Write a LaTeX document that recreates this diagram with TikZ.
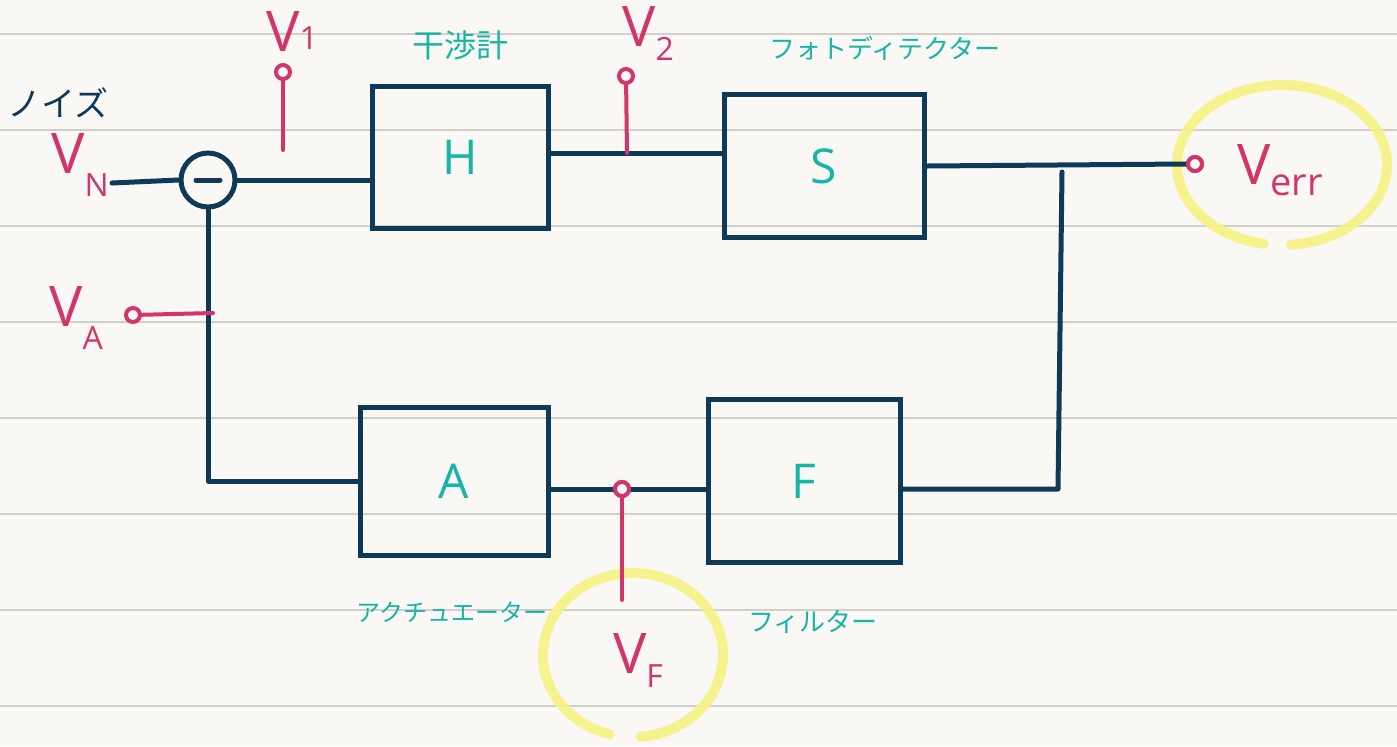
\documentclass[tikz,border=0pt]{standalone}
\usepackage{fontspec}
\setmainfont{Open Sans}
\newfontfamily\jp{Noto Sans CJK JP}
\definecolor{paper}{HTML}{FAF8F4}
\definecolor{rule}{HTML}{D2CEC9}
\definecolor{navy}{HTML}{0E3A57}
\definecolor{mag}{HTML}{D2356B}
\definecolor{teal}{HTML}{17B5A6}
\definecolor{hl}{HTML}{F6F283}
\begin{document}
\begin{tikzpicture}[x=0.5pt,y=-0.5pt,
  wire/.style={draw=navy,line width=2.5pt,line cap=round,line join=round},
  probe/.style={draw=mag,line width=2pt,line cap=round},
  blk/.style={draw=navy,line width=2.5pt,text=teal,font=\fontsize{24}{26}\selectfont,inner sep=0pt},
  pdot/.style={circle,draw=mag,line width=2pt,fill=paper,minimum size=7pt,inner sep=0pt},
  vlab/.style={text=mag,font=\fontsize{28}{30}\selectfont,inner sep=0pt},
  jlab/.style={text=teal,inner sep=0pt},
  hlring/.style={draw=hl,line width=5pt,line cap=round,opacity=0.9}]
\fill[paper] (0,0) rectangle (1397,746);
\useasboundingbox (0,0) rectangle (1397,746);
\foreach \yy in {34,130,226,322,418,514,610,706}
  \draw[rule,line width=1pt] (0,\yy) -- (1397,\yy);
% highlight rings (angles measured with y pointing down)
\coordinate (c1) at (1282,165);
\coordinate (c2) at (633,655);
\draw[hlring] (c1) ++(100:105 and 80) arc[start angle=100,end angle=445,x radius=105,y radius=80];
\draw[hlring] (c2) ++(105:90 and 82) arc[start angle=105,end angle=445,x radius=90,y radius=82];
% blocks
\node[blk,minimum width=88pt,minimum height=71pt] (H) at (460,157) {H};
\node[blk,minimum width=100pt,minimum height=71.5pt] (S) at (824,166) {S};
\node[blk,minimum width=94pt,minimum height=74pt] (A) at (454,481) {A};
\node[blk,minimum width=96pt,minimum height=81.5pt] (F) at (804,481) {F};
\node[circle,draw=navy,line width=2.5pt,minimum size=27pt,inner sep=0pt] (sum) at (208,180) {};
\draw[navy,line width=2.5pt,line cap=round] ([xshift=-6pt]sum.center) -- ([xshift=6pt]sum.center);
% coordinates
\coordinate (vn) at (112,183);
\coordinate (r1) at (1062,172);
\coordinate (r2) at (1058,489);
\coordinate (ja) at (213,313);
\node[pdot] (verr) at (1195,164) {};
\node[pdot] (d1) at (283,72) {};
\coordinate (e1) at (283,150);
\node[pdot] (d2) at (626,76) {};
\coordinate (e2) at (627,153);
\node[pdot] (da) at (133,315) {};
\node[pdot] (df) at (622,489) {};
\coordinate (ef) at (622,600);
% wires
\draw[wire] (vn) -- (sum.west);
\draw[wire] (sum.east) -- (sum.east -| H.west);
\draw[wire] (H.east |- 0,153) -- (S.west |- 0,153);
\draw[wire] (S.east) -- (verr.west);
\draw[wire] (r1) -- (r2) -- (F.east |- r2);
\draw[wire] (sum.south) |- (A.west);
\draw[wire] (A.east |- df) -- (F.west |- df);
% probes
\draw[probe] (d1) -- (e1);
\draw[probe] (d2) -- (e2);
\draw[probe] (da) -- (ja);
\draw[probe] (df) -- (ef);
\node[pdot] at (verr) {};
\node[pdot] at (df) {};
% labels
\node[vlab] (lvn) at (80,165) {V\raisebox{-0.4em}{\fontsize{16}{16}\selectfont N}};
\node[vlab] (lv1) at (292,32) {V\raisebox{0.05em}{\fontsize{16}{16}\selectfont 1}};
\node[vlab] (lv2) at (648,34) {V\raisebox{-0.25em}{\fontsize{16}{16}\selectfont 2}};
\node[vlab] (lva) at (76,318) {V\raisebox{-0.4em}{\fontsize{16}{16}\selectfont A}};
\node[vlab] (lvf) at (638,660) {V\raisebox{-0.25em}{\fontsize{16}{16}\selectfont F}};
\node[vlab] (lve) at (1280,170) {V\raisebox{-0.2em}{\fontsize{19}{19}\selectfont err}};
\node[inner sep=0pt,text=navy,font=\jp\fontsize{17}{18}\selectfont] (noise) at (58,103) {ノイズ};
\node[jlab,font=\jp\fontsize{16}{18}\selectfont] (lh) at (460,45) {干渉計};
\node[jlab,font=\jp\fontsize{13}{15}\selectfont] (ls) at (885,48) {フォトディテクター};
\node[jlab,font=\jp\fontsize{12}{14}\selectfont] (la) at (452,612) {アクチュエーター};
\node[jlab,font=\jp\fontsize{13}{15}\selectfont] (lf) at (813,622) {フィルター};
\end{tikzpicture}
\end{document}
